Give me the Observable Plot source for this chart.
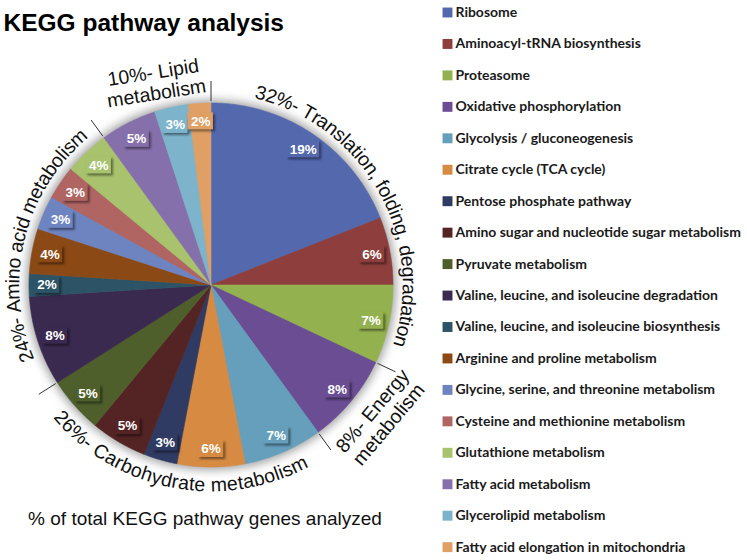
<!DOCTYPE html>
<html><head><meta charset="utf-8">
<script src="https://cdn.jsdelivr.net/npm/d3@7"></script>
<script src="https://cdn.jsdelivr.net/npm/@observablehq/plot@0.6"></script>
<style>body{margin:0;background:#fff;}</style>
</head><body><div id="chart"></div>
<script>
// ---- data ----
const categories = [
  "Ribosome","Aminoacyl-tRNA biosynthesis","Proteasome","Oxidative phosphorylation",
  "Glycolysis / gluconeogenesis","Citrate cycle (TCA cycle)","Pentose phosphate pathway",
  "Amino sugar and nucleotide sugar metabolism","Pyruvate metabolism",
  "Valine, leucine, and isoleucine degradation","Valine, leucine, and isoleucine biosynthesis",
  "Arginine and proline metabolism","Glycine, serine, and threonine metabolism",
  "Cysteine and methionine metabolism","Glutathione metabolism","Fatty acid metabolism",
  "Glycerolipid metabolism","Fatty acid elongation in mitochondria"
];
const percents = [19,6,7,8,7,6,3,5,5,8,2,4,3,3,4,5,3,2];
const colors = [
  "#5468ae","#8e3f3d","#93b14f","#6a4d92","#659fbc","#d68a42","#2f3b63","#542324","#4e5f2b",
  "#3a2a50","#2d5466","#8b4a15","#6e84c1","#b06563","#a8c26d","#8670ab","#7db4cb","#e0a065"
];
const groupLabels = ["32%- Translation, folding, degradation","8%- Energy\nmetabolism","26%- Carbohydrate metabolism","24%- Amino acid metabolism","10%- Lipid\nmetabolism"];
const groupSizes = [3,1,5,6,3];
const title = "KEGG pathway analysis";
const caption = "% of total KEGG pathway genes analyzed";

// ---- layout ----
const W = 747, H = 560, cx = 210.5, cy = 284.5, R = 182;
const SANS = "Liberation Sans, Arial, sans-serif";
const ctx = document.createElement("canvas").getContext("2d");
const measure = (t, font) => { ctx.font = font; return ctx.measureText(t).width; };
const pt = (a, r) => [cx + r * Math.sin(a), cy - r * Math.cos(a)];

const arcs = d3.pie().sort(null).startAngle(0).endAngle(2 * Math.PI)(percents);

// slice polygons
const slicePts = [];
arcs.forEach((a, i) => {
  const n = Math.max(2, Math.ceil((a.endAngle - a.startAngle) / (Math.PI / 360)));
  slicePts.push({name: categories[i], x: cx, y: cy});
  for (let k = 0; k <= n; k++) {
    const t = a.startAngle + (a.endAngle - a.startAngle) * k / n;
    const [x, y] = pt(t, R);
    slicePts.push({name: categories[i], x, y});
  }
  slicePts.push({name: categories[i], x: cx, y: cy});
});

// percent labels
const labFs = 13.5;
const labFont = `bold ${labFs}px ${SANS}`;
const labels = arcs.map((a, i) => {
  const m = (a.startAngle + a.endAngle) / 2;
  const [x, y] = pt(m, 164);
  const txt = percents[i] + "%";
  const w = measure(txt, labFont) + 6;
  return {name: categories[i], txt, x, y, x1: x - w / 2, x2: x + w / 2, y1: y - 8.5, y2: y + 8.5};
});

// group boundaries
const bounds = [];
let idx = 0;
const groupAngles = groupSizes.map(s => {
  const a0 = arcs[idx].startAngle;
  const a1 = arcs[idx + s - 1].endAngle;
  bounds.push(a0);
  idx += s;
  return [a0, a1];
});
const ticks = bounds.map(a => { const [x1, y1] = pt(a, R + 2); const [x2, y2] = pt(a, R + 22); return {x1, y1, x2, y2}; });

// curved group labels
const gFont = `19.5px ${SANS}`;
function arcChars(label, midDeg, radius, outward) {
  const totalW = measure(label, gFont);
  const span = totalW / radius;
  const mid = midDeg * Math.PI / 180;
  return [...label].map((ch, i) => {
    const off = (measure(label.slice(0, i), gFont) + measure(ch, gFont) / 2) / radius - span / 2;
    const a = outward ? mid + off : mid - off;
    const [x, y] = pt(a, radius);
    return {ch, x, y, rot: outward ? a * 180 / Math.PI : a * 180 / Math.PI - 180};
  });
}
const deg = a => a * 180 / Math.PI;
const gm = groupAngles.map(([a0, a1]) => deg((a0 + a1) / 2));
const curved = [
  ...arcChars(groupLabels[0], gm[0] + 3, 198, true),
  ...arcChars(groupLabels[2], gm[2], 200, false),
  ...arcChars(groupLabels[3], gm[3] + 3, 198, true)
];
const [ex, ey] = pt(128 * Math.PI / 180, 215);
const [lx, ly] = pt(344.5 * Math.PI / 180, 210);
const straight = [
  {t: groupLabels[1], x: ex, y: ey, rot: -50},
  {t: groupLabels[4], x: lx, y: ly, rot: -9}
];

// legend font fit
const legFamily = "Lato, sans-serif";
const legFs = 13 * 286 / measure(categories[7], `bold 13px ${legFamily}`);
const legY = (d, i) => 12 + i * 31.45;

const chart = Plot.plot({
  width: W, height: H, margin: 0,
  x: {domain: [0, W], range: [0, W], axis: null},
  y: {domain: [0, H], range: [0, H], axis: null},
  color: {domain: categories, range: colors},
  style: {background: "white", overflow: "visible"},
  marks: [
    Plot.dot([0], {x: () => cx, y: () => cy, r: R + 3, fill: "#a0a0a0"}),
    Plot.line(slicePts, {x: "x", y: "y", z: "name", fill: "name", stroke: "name", strokeWidth: 0.6}),
    Plot.link(ticks, {x1: "x1", y1: "y1", x2: "x2", y2: "y2", stroke: "#333", strokeWidth: 1}),
    Plot.rect(labels, {x1: d => d.x1 + 2, x2: d => d.x2 + 2, y1: d => d.y1 + 2, y2: d => d.y2 + 2, fill: "#000", fillOpacity: 0.45}),
    Plot.rect(labels, {x1: "x1", x2: "x2", y1: "y1", y2: "y2", fill: "name"}),
    Plot.text(labels, {x: "x", y: "y", text: "txt", fill: "white", fontFamily: SANS, fontWeight: "bold", fontSize: labFs}),
    Plot.text(curved, {x: "x", y: "y", text: "ch", rotate: "rot", fill: "#111", fontFamily: SANS, fontSize: 19.5, lineAnchor: "middle"}),
    Plot.text(straight, {x: "x", y: "y", text: "t", rotate: "rot", fill: "#111", fontFamily: SANS, fontSize: 19.5, lineHeight: 1.08, lineAnchor: "middle"}),
    Plot.text([title], {x: () => 3, y: () => 22.5, text: d => d, textAnchor: "start", fontFamily: SANS, fontWeight: "bold", fontSize: 24.5, fill: "#000"}),
    Plot.text([caption], {x: () => 204.5, y: () => 518, text: d => d, fontFamily: SANS, fontSize: 19, fill: "#111"}),
    Plot.dot(categories, {x: () => 447, y: legY, symbol: "square", r: 5.6, fill: d => d}),
    Plot.text(categories, {x: () => 455, y: legY, text: d => d, textAnchor: "start", fontFamily: legFamily, fontWeight: "bold", fontSize: legFs, fill: "#1a1a1a"})
  ]
});
const dots = chart.querySelectorAll('g[aria-label="dot"]');
if (dots[0]) dots[0].style.filter = "blur(5px)";
const rects = chart.querySelectorAll('g[aria-label="rect"]');
if (rects[0]) rects[0].style.filter = "blur(1px)";
document.getElementById("chart").appendChild(chart);
</script>
</body></html>
